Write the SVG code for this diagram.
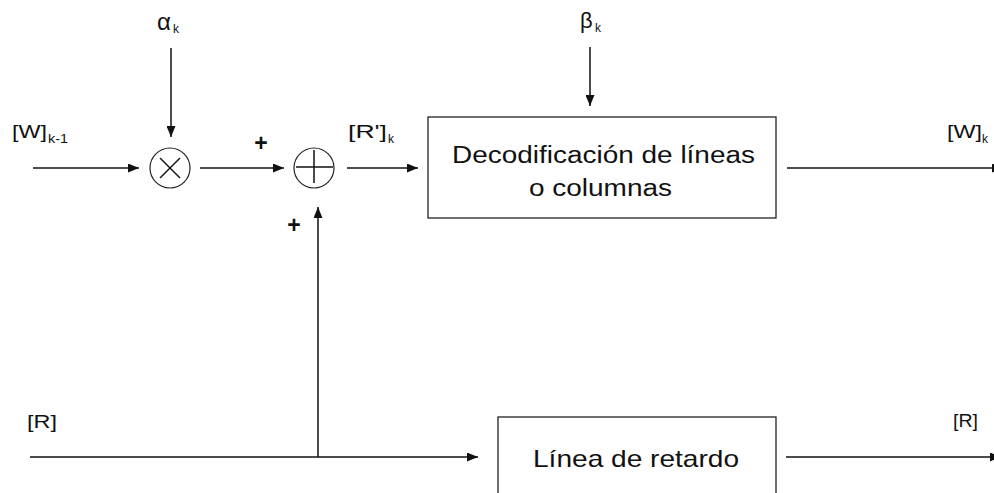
<svg xmlns="http://www.w3.org/2000/svg" width="994" height="493" viewBox="0 0 994 493">
<defs>
<style>
.ln{stroke:#111;stroke-width:1.5;fill:none}
.bx{stroke:#222;stroke-width:1.3;fill:#fff}
.op{stroke:#222;stroke-width:1.2;fill:#fff}
.t{font-family:"Liberation Sans",Arial,sans-serif;fill:#111}
.pl{font-family:"Liberation Sans",Arial,sans-serif;fill:#111;font-weight:bold;font-size:23px;text-anchor:middle}
</style>
<marker id="ah" markerUnits="userSpaceOnUse" markerWidth="11" markerHeight="9" refX="11" refY="4.5" orient="auto">
<path d="M0,0 L11,4.5 L0,9 z" fill="#111"/>
</marker>
</defs>
<rect width="994" height="493" fill="#fff"/>
<g id="connectors">
<line class="ln" x1="171" y1="48" x2="171" y2="137" marker-end="url(#ah)"/>
<line class="ln" x1="590" y1="47" x2="590" y2="106" marker-end="url(#ah)"/>
<line class="ln" x1="33" y1="168" x2="139" y2="168" marker-end="url(#ah)"/>
<line class="ln" x1="200" y1="168" x2="284" y2="168" marker-end="url(#ah)"/>
<line class="ln" x1="347" y1="168" x2="418" y2="168" marker-end="url(#ah)"/>
<line class="ln" x1="787" y1="168" x2="1003" y2="168" marker-end="url(#ah)"/>
<line class="ln" x1="30" y1="457" x2="478" y2="457" marker-end="url(#ah)"/>
<line class="ln" x1="318" y1="457" x2="318" y2="207" marker-end="url(#ah)"/>
<line class="ln" x1="786" y1="457" x2="1001" y2="457" marker-end="url(#ah)"/>
</g>
<g id="multiplier">
<circle class="op" cx="170" cy="168" r="20"/>
<line class="ln" x1="160" y1="158" x2="180" y2="178" stroke-width="1"/>
<line class="ln" x1="180" y1="158" x2="160" y2="178" stroke-width="1"/>
</g>
<g id="adder">
<circle class="op" cx="314" cy="168" r="20"/>
<line class="ln" x1="314" y1="150" x2="314" y2="183" stroke-width="1.3"/>
<line class="ln" x1="296" y1="167" x2="333" y2="167" stroke-width="1.3"/>
</g>
<g id="decoder">
<rect class="bx" x="428" y="117" width="348" height="101"/>
<text class="t" x="452" y="163" font-size="23" textLength="303" lengthAdjust="spacingAndGlyphs">Decodificación de líneas</text>
<text class="t" x="529" y="196" font-size="23" textLength="143" lengthAdjust="spacingAndGlyphs">o columnas</text>
</g>
<g id="delay">
<rect class="bx" x="498" y="417" width="278" height="90"/>
<text class="t" x="533" y="467" font-size="24" textLength="206" lengthAdjust="spacingAndGlyphs">Línea de retardo</text>
</g>
<g id="labels">
<text class="t" x="157" y="30" font-size="24">α</text>
<text class="t" x="173" y="33" font-size="12">k</text>
<text class="t" x="580" y="28" font-size="22">β</text>
<text class="t" x="595" y="32" font-size="12">k</text>
<text class="t" x="12" y="138" font-size="19" textLength="35" lengthAdjust="spacingAndGlyphs">[W]</text>
<text class="t" x="48" y="143" font-size="12" textLength="20" lengthAdjust="spacingAndGlyphs">k-1</text>
<text class="t" x="348" y="138" font-size="19" textLength="39" lengthAdjust="spacingAndGlyphs">[R']</text>
<text class="t" x="388" y="143" font-size="12">k</text>
<text class="t" x="947" y="138" font-size="19" textLength="35" lengthAdjust="spacingAndGlyphs">[W]</text>
<text class="t" x="982" y="143" font-size="12">k</text>
<text class="t" x="27" y="428" font-size="19" textLength="30" lengthAdjust="spacingAndGlyphs">[R]</text>
<text class="t" x="953" y="427" font-size="19" textLength="25" lengthAdjust="spacingAndGlyphs">[R]</text>
<text class="pl" x="261" y="151">+</text>
<text class="pl" x="294" y="233">+</text>
</g>
</svg>
